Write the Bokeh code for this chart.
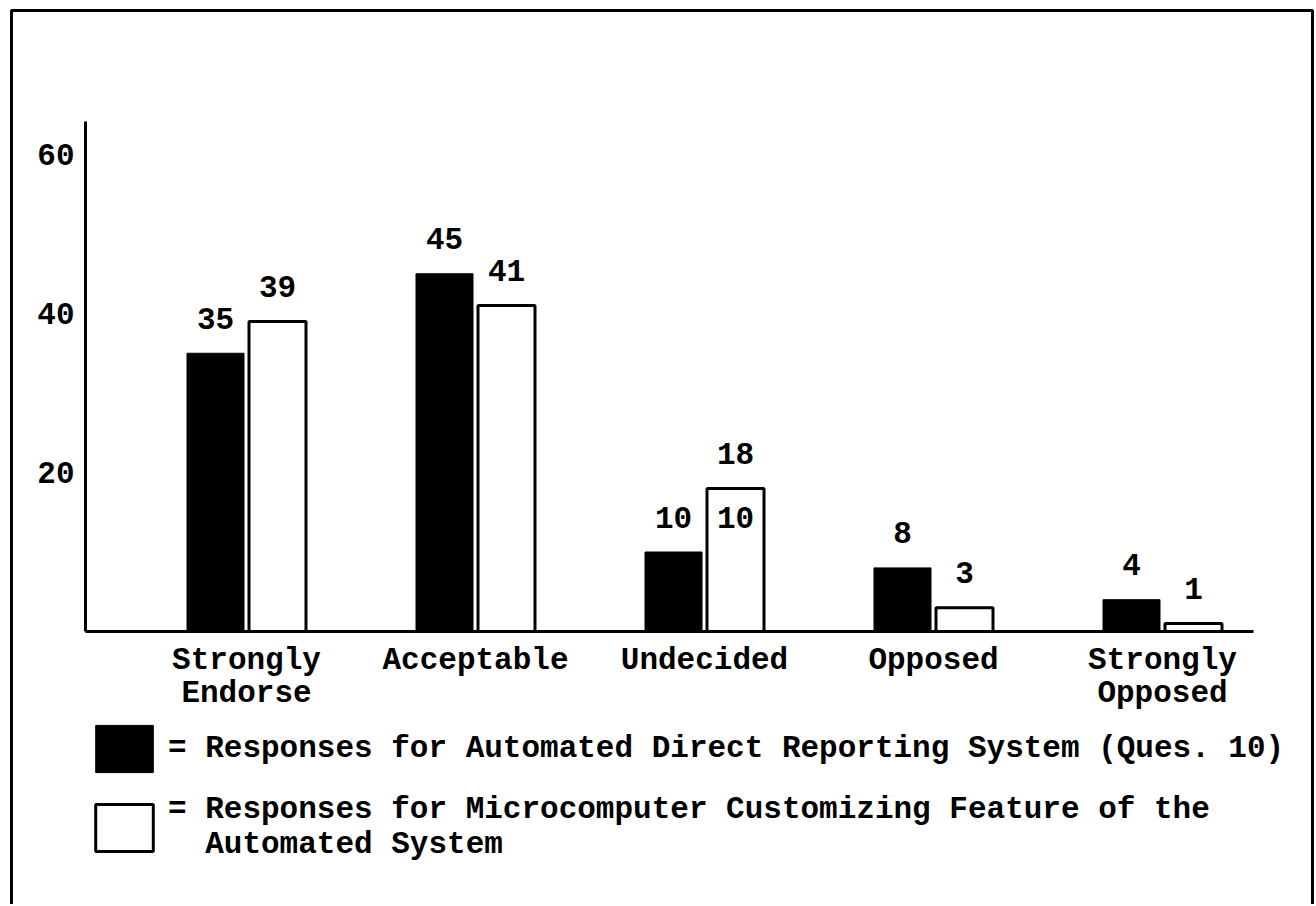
from bokeh.plotting import figure
from bokeh.models import Range1d, FixedTicker, BoxAnnotation, Legend, LegendItem, ColumnDataSource
from bokeh.transform import dodge
from bokeh.core.properties import value
from bokeh.embed import file_html
from bokeh.resources import INLINE

# ---------------- data ----------------
categories = ["Strongly\nEndorse", "Acceptable", "Undecided", "Opposed", "Strongly\nOpposed"]
automated = [35, 45, 10, 8, 4]          # Automated Direct Reporting System (Ques. 10)
microcomputer = [39, 41, 18, 3, 1]      # Microcomputer Customizing Feature
micro_inner_text = ["", "", "10", "", ""]
y_ticks = [20, 40, 60]
legend_labels = [
    "= Responses for Automated Direct Reporting System (Ques. 10)",
    "= Responses for Microcomputer Customizing Feature of the\n\u00a0\u00a0Automated System",
]

# ---------------- layout helpers (page pixels -> data units) ----------------
W, H = 1314, 904
X0, Y0 = 0, 0
GROUP0_PX, GROUP_STEP_PX = 246.0, 229.0
ZERO_PX, PX_PER_UNIT = 631.0, 7.95


def xd(px):
    return (px - GROUP0_PX) / GROUP_STEP_PX


def yd(py):
    return (ZERO_PX - py) / PX_PER_UNIT


FONT_NAME = "Liberation Mono"
FONT = value(FONT_NAME)
FS = "31px"
STYLE = "bold"
OFF = 31.0 / GROUP_STEP_PX
BW = 57.0 / GROUP_STEP_PX

idx = list(range(len(categories)))
src = ColumnDataSource(dict(
    idx=idx,
    automated=automated,
    microcomputer=microcomputer,
    automated_txt=[str(v) for v in automated],
    micro_txt=[str(v) for v in microcomputer],
    micro_inner=micro_inner_text,
    inner_y=automated,
))

p = figure(width=W, height=H, output_backend="svg", toolbar_location=None,
           x_range=Range1d(xd(X0), xd(X0 + W)), y_range=Range1d(yd(Y0 + H), yd(Y0)),
           min_border=0)
p.outline_line_color = None
p.background_fill_color = "white"
p.border_fill_color = "white"
p.grid.visible = False

r_auto = p.vbar(x=dodge("idx", -OFF), top="automated", bottom=0, width=BW, source=src,
                fill_color="black", line_color="black", line_width=1)
r_micro = p.vbar(x=dodge("idx", OFF), top="microcomputer", bottom=0, width=BW, source=src,
                 fill_color="white", line_color="black", line_width=3)

for col_x, col_y, col_t in [(-OFF, "automated", "automated_txt"),
                            (OFF, "microcomputer", "micro_txt"),
                            (OFF, "inner_y", "micro_inner")]:
    p.text(x=dodge("idx", col_x), y=col_y, text=col_t, source=src,
           text_align="center", text_baseline="middle", y_offset=-35,
           text_font=FONT, text_font_size=FS, text_font_style=STYLE, text_color="black")

# axes
xa = p.xaxis[0]
xa.fixed_location = 0
xa.bounds = (xd(85), xd(1253))
xa.ticker = FixedTicker(ticks=idx)
xa.major_label_overrides = {i: c for i, c in enumerate(categories)}
xa.major_tick_line_color = None
xa.minor_tick_line_color = None
xa.major_tick_out = 0
xa.major_tick_in = 0
xa.minor_tick_out = 0
xa.axis_line_width = 3
xa.axis_line_color = "black"
xa.major_label_standoff = 11
xa.major_label_text_font = FONT_NAME
xa.major_label_text_font_size = FS
xa.major_label_text_font_style = STYLE
xa.major_label_text_color = "black"
xa.major_label_text_line_height = 0.95

ya = p.yaxis[0]
ya.fixed_location = xd(85)
ya.bounds = (0, yd(121))
ya.ticker = FixedTicker(ticks=y_ticks)
ya.major_tick_line_color = None
ya.minor_tick_line_color = None
ya.major_tick_out = 0
ya.major_tick_in = 0
ya.minor_tick_out = 0
ya.axis_line_width = 3
ya.axis_line_color = "black"
ya.major_label_standoff = 11
ya.major_label_text_font = FONT_NAME
ya.major_label_text_font_size = FS
ya.major_label_text_font_style = STYLE
ya.major_label_text_color = "black"

# outer frame of the figure page
border = BoxAnnotation(left=xd(11), right=xd(1312), top=yd(10), bottom=yd(1200),
                       fill_color=None, line_color="black", line_alpha=1.0, line_width=3)
p.add_layout(border)

legend = Legend(items=[LegendItem(label=legend_labels[0], renderers=[r_auto]),
                       LegendItem(label=legend_labels[1], renderers=[r_micro])],
                location=(88, 42), glyph_width=72, glyph_height=59, label_standoff=8,
                padding=0, spacing=14, margin=0, border_line_color=None,
                background_fill_alpha=0, label_text_font=FONT_NAME, label_text_font_size=FS,
                label_text_font_style=STYLE,
                label_text_color="black", label_text_line_height=0.85)
p.add_layout(legend)

open("out.html", "w").write(file_html(p, INLINE))
